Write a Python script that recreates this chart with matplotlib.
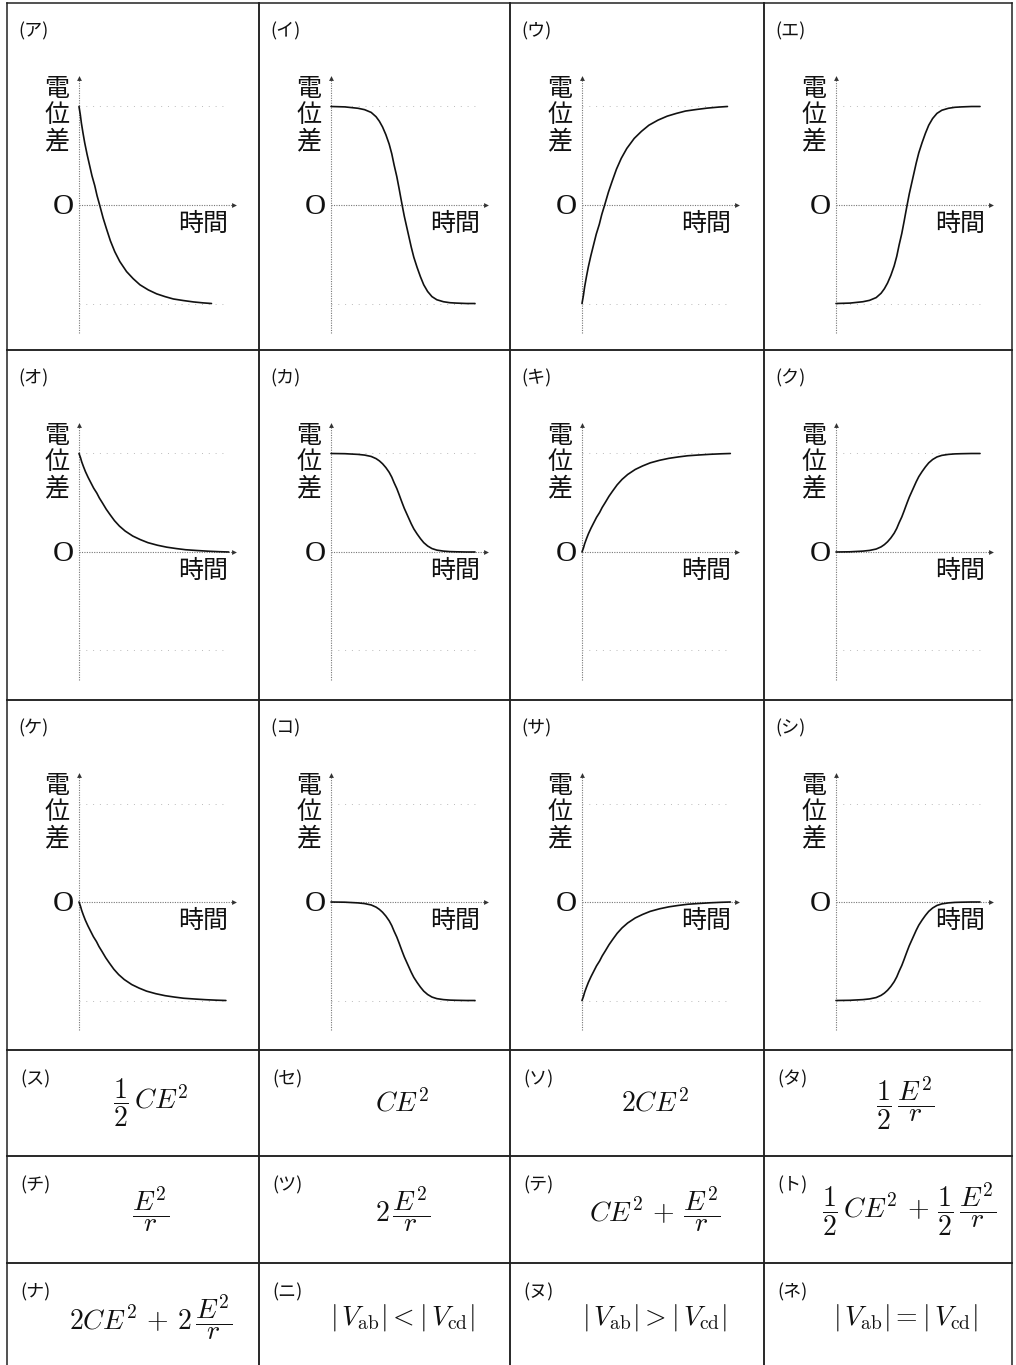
import matplotlib
matplotlib.use("Agg")
import matplotlib.pyplot as plt

plt.rcParams['font.family'] = ['Noto Sans CJK JP', 'DejaVu Sans']
plt.rcParams['mathtext.fontset'] = 'cm'

W, H = 1016, 1365
COL_X = [7, 259, 510, 764, 1012]
ROW_Y = [3, 350, 700, 1050, 1156, 1263, 1365]

# graph panels (row by row): label, curve shape, start level, end level, end time
GRAPH_LABELS = ['ア', 'イ', 'ウ', 'エ', 'オ', 'カ', 'キ', 'ク', 'ケ', 'コ', 'サ', 'シ']
GRAPH_SHAPE = ['exp', 'sig', 'exp', 'sig',
               'exp', 'sig', 'exp', 'sig',
               'exp', 'sig', 'exp', 'sig']
GRAPH_START = [1, 1, -1, -1,
               1, 1, 0, 0,
               0, 0, -1, -1]
GRAPH_END = [-1, -1, 1, 1,
             0, 0, 1, 1,
             -1, -1, 0, 0]
GRAPH_TEND = [0.92, 1.0, 1.01, 1.0,
              1.04, 1.0, 1.03, 1.0,
              1.02, 1.0, 1.03, 1.0]

# transient profiles: time fraction -> progress fraction
EXP_T = [0, 0.010, 0.018, 0.030, 0.043, 0.061, 0.081, 0.098, 0.119, 0.136,
         0.157, 0.182, 0.207, 0.237, 0.270, 0.308, 0.359, 0.409, 0.460,
         0.523, 0.586, 0.649, 0.712, 0.788, 0.864, 0.939, 1.0]
EXP_P = [0, 0.042, 0.084, 0.134, 0.184, 0.243, 0.302, 0.352, 0.402, 0.452,
         0.503, 0.566, 0.620, 0.682, 0.737, 0.787, 0.838, 0.874, 0.905,
         0.931, 0.951, 0.965, 0.977, 0.985, 0.992, 0.997, 1.0]
SIG_T = [0, 0.096, 0.187, 0.233, 0.279, 0.313, 0.336, 0.358, 0.381, 0.404,
         0.422, 0.438, 0.457, 0.473, 0.484, 0.495, 0.509, 0.525, 0.541,
         0.557, 0.575, 0.598, 0.621, 0.644, 0.671, 0.701, 0.735, 0.781,
         0.826, 0.872, 0.941, 1.0]
SIG_P = [0, 0.002, 0.009, 0.016, 0.030, 0.052, 0.075, 0.104, 0.143, 0.191,
         0.240, 0.296, 0.356, 0.417, 0.461, 0.504, 0.557, 0.609, 0.661,
         0.713, 0.765, 0.817, 0.864, 0.905, 0.939, 0.965, 0.981, 0.991,
         0.996, 0.998, 1.0, 1.0]
PROFILES = {'exp': (EXP_T, EXP_P), 'sig': (SIG_T, SIG_P)}

# answer choices below the graphs
FORMULA_LABELS = ['ス', 'セ', 'ソ', 'タ', 'チ', 'ツ', 'テ', 'ト', 'ナ', 'ニ', 'ヌ', 'ネ']
FORMULAS = [
    r'$\dfrac{1}{2}\,CE^2$',
    r'$CE^2$',
    r'$2CE^2$',
    r'$\dfrac{1}{2}\,\dfrac{E^2}{r}$',
    r'$\dfrac{E^2}{r}$',
    r'$2\,\dfrac{E^2}{r}$',
    r'$CE^2\,+\,\dfrac{E^2}{r}$',
    r'$\dfrac{1}{2}\,CE^2\,+\,\dfrac{1}{2}\,\dfrac{E^2}{r}$',
    r'$2CE^2\,+\,2\,\dfrac{E^2}{r}$',
    r'$|\,V_{\mathrm{ab}}|<|\,V_{\mathrm{cd}}|$',
    r'$|\,V_{\mathrm{ab}}|>|\,V_{\mathrm{cd}}|$',
    r'$|\,V_{\mathrm{ab}}|=|\,V_{\mathrm{cd}}|$',
]

PX_T = 144.0   # pixels per unit time
PX_V = 98.5    # pixels per unit potential
X0 = 72        # y axis offset inside a cell
Y0 = 202       # zero line offset from the cell top
INK = '#111111'

fig = plt.figure(figsize=(W / 100, H / 100), dpi=100)


def cell_axes(col, row):
    x0, x1 = COL_X[col], COL_X[col + 1]
    y0, y1 = ROW_Y[row], ROW_Y[row + 1]
    ax = fig.add_axes([x0 / W, 1 - y1 / H, (x1 - x0) / W, (y1 - y0) / H])
    ax.set_xticks([])
    ax.set_yticks([])
    ax.patch.set_alpha(0)
    for s in ax.spines.values():
        s.set_color('#222222')
        s.set_linewidth(1.1)
    if row == len(ROW_Y) - 2:
        ax.spines['bottom'].set_visible(False)
    return ax, x1 - x0, y1 - y0


def offset_text(ax, s, xy, off, coords='data', **kw):
    ax.annotate(s, xy=xy, xycoords=coords, xytext=off,
                textcoords='offset pixels', color=INK, **kw)


for i, lab in enumerate(GRAPH_LABELS):
    ax, w, h = cell_axes(i % 4, i // 4)
    ax.set_xlim(-X0 / PX_T, (w - X0) / PX_T)
    ax.set_ylim(-(h - Y0) / PX_V, Y0 / PX_V)

    # axes drawn as dotted guides
    ax.plot([0, 0], [-1.30, 1.27], color='#777777', lw=0.8, ls=(0, (1, 1.2)))
    ax.plot([0], [1.29], marker='^', ms=3.5, color='#333333', mew=0)
    ax.plot([0, 1.06], [0, 0], color='#777777', lw=0.8, ls=(0, (1, 1.2)))
    ax.plot([1.075], [0], marker='>', ms=3.5, color='#333333', mew=0)
    for lev in (1, -1):
        ax.plot([0, 1.0], [lev, lev], color='#bbbbbb', lw=0.7, ls=(0, (1, 6)))

    pt, pp = PROFILES[GRAPH_SHAPE[i]]
    v0, v1, te = GRAPH_START[i], GRAPH_END[i], GRAPH_TEND[i]
    ax.plot([t * te for t in pt], [v0 + (v1 - v0) * p for p in pp],
            color=INK, lw=1.2, solid_capstyle='round', solid_joinstyle='round')

    offset_text(ax, '(%s)' % lab, (0, 1), (11, -19), coords='axes fraction',
                ha='left', va='top', fontsize=13)
    for k, ch in enumerate('電位差'):
        offset_text(ax, ch, (0, 0), (-22, 116 - 26 * k),
                    ha='center', va='center', fontsize=18)
    offset_text(ax, 'O', (0, 0), (-16, -2), ha='center', va='center',
                fontsize=21, family='Liberation Serif')
    offset_text(ax, '時間', (0, 0), (124, -19), ha='center', va='center',
                fontsize=18)

for i, lab in enumerate(FORMULA_LABELS):
    row = 3 + i // 4
    ax, w, h = cell_axes(i % 4, row)
    offset_text(ax, '(%s)' % lab, (0, 1), (13, -20), coords='axes fraction',
                ha='left', va='top', fontsize=13)
    fx = 0.585 if lab == 'ト' else 0.57
    fy = 0.47 if row == 5 else 0.5
    ax.text(fx, fy, FORMULAS[i], transform=ax.transAxes, ha='center',
            va='center', fontsize=20, color=INK)

fig.savefig('out.png', dpi=100)
